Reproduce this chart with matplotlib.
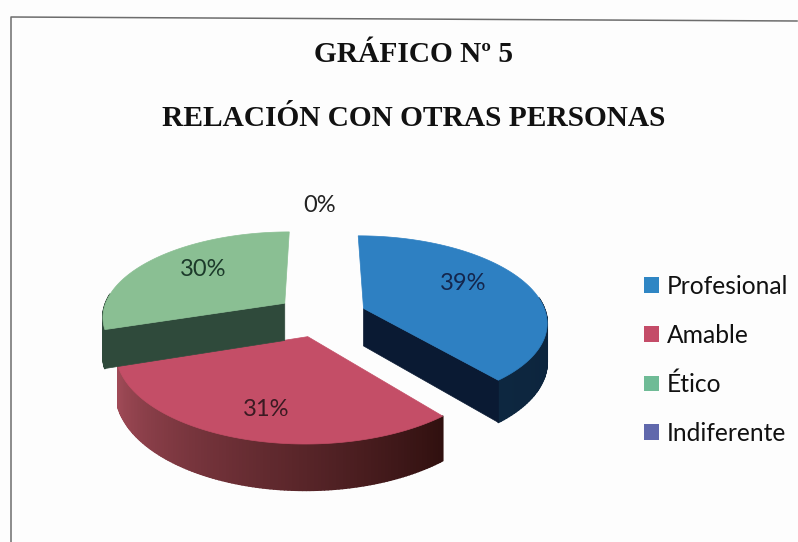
import numpy as np
import matplotlib
matplotlib.use("Agg")
import matplotlib.pyplot as plt
from matplotlib.collections import PolyCollection
from matplotlib.colors import to_rgb
from matplotlib.patches import Patch, Polygon

# -----------------------------------------
# Data
# -----------------------------------------
categories = ["Profesional", "Amable", "Ético", "Indiferente"]
percent = [39, 31, 30, 0]
title_lines = ["GRÁFICO Nº 5", "RELACIÓN CON OTRAS PERSONAS"]

# -----------------------------------------
# Styles
# -----------------------------------------
top_colors = ["#2e80c2", "#c44e67", "#8abf93", "#6068ac"]
legend_colors = ["#2f86c4", "#c44c68", "#6fbb96", "#6068ac"]
rim_colors = [("#0a1c33", "#0d2740"), ("#a04a57", "#30100f"), ("#2f4a3b", "#2f4a3b"), ("#333355", "#333355")]
cut_colors = ["#0a1a33", "#30100f", "#2f4a3b", "#333355"]
label_colors = ["#14264d", "#3a1a22", "#1c3a2a", "#222222"]
label_xy = [(463, 284), (266, 409), (203, 270), (320, 206)]

center_x, center_y = 321, 315.5
radius_x, radius_y = 183, 85
tilt = 0.145
explode = 0.25
depth = 38

plt.rcParams["font.family"] = ["Lato", "DejaVu Sans"]


# -----------------------------------------
# Perspective projection of the pie disc
# -----------------------------------------
def project(x, y, drop=0.0):
    w = 1 + tilt * y
    return np.column_stack([center_x + radius_x * x / w, center_y - radius_y * y / w + drop / w])


fig = plt.figure(figsize=(7.98, 5.42), dpi=100, facecolor="#fdfdfd")
ax = fig.add_axes([0, 0, 1, 1])
ax.set_xlim(0, 798)
ax.set_ylim(542, 0)
ax.axis("off")

# frame of the scanned page
ax.plot([11, 11, 797], [542, 17, 21], color="#6d6d6d", lw=1.1)

# -----------------------------------------
# Slices, clockwise from the top
# -----------------------------------------
sweep = np.array(percent) / sum(percent) * 2 * np.pi
ends = np.pi / 2 - np.cumsum(sweep)
starts = ends + sweep

# red goes first because green sits over it
for i in [1, 2, 0]:
    theta = np.linspace(starts[i], ends[i], 120)
    mid = (starts[i] + ends[i]) / 2
    ox, oy = explode * np.cos(mid), explode * np.sin(mid)
    arc_x, arc_y = ox + np.cos(theta), oy + np.sin(theta)

    # outer rim, only the part facing the viewer
    top = project(arc_x, arc_y)
    bottom = project(arc_x, arc_y, depth)
    quads, quad_colors = [], []
    c0, c1 = np.array(to_rgb(rim_colors[i][0])), np.array(to_rgb(rim_colors[i][1]))
    for j in range(len(theta) - 1):
        if np.sin((theta[j] + theta[j + 1]) / 2) < 0.12:
            quads.append([top[j], top[j + 1], bottom[j + 1], bottom[j]])
            quad_colors.append(c0 + (c1 - c0) * j / (len(theta) - 2))
    if i == 1:
        # red rim runs left to right
        quad_colors = quad_colors[::-1]
    ax.add_collection(PolyCollection(quads, facecolors=quad_colors, edgecolors=quad_colors, lw=1.2))

    # cut face turned to the viewer
    apex = project(np.array([ox]), np.array([oy]))[0]
    apex_low = project(np.array([ox]), np.array([oy]), depth)[0]
    if i == 0:
        ax.add_patch(Polygon([apex, top[-1], bottom[-1], apex_low], color=cut_colors[i], lw=0.5))
    if i == 2:
        ax.add_patch(Polygon([apex, top[0], bottom[0], apex_low], color=cut_colors[i], lw=0.5))

    # top face
    ax.add_patch(Polygon(np.vstack([apex, top]), color=top_colors[i], lw=0.5))

# -----------------------------------------
# Texts
# -----------------------------------------
for value, (x, y), color in zip(percent, label_xy, label_colors):
    ax.text(x, y, f"{value}%", ha="center", va="center", fontsize=17, color=color)

ax.text(414, 54, title_lines[0], ha="center", va="center", fontsize=21.2, fontweight="bold",
        family="Liberation Serif", color="#111111")
ax.text(414, 119, title_lines[1], ha="center", va="center", fontsize=21.2, fontweight="bold",
        family="Liberation Serif", color="#111111")

handles = [Patch(facecolor=c, edgecolor="none", label=name) for c, name in zip(legend_colors, categories)]
ax.legend(handles=handles, loc="center left", bbox_to_anchor=(644 / 798, 1 - 360 / 542), frameon=False,
          fontsize=17.7, labelspacing=1.05, handlelength=0.61, handleheight=0.61, handletextpad=0.33,
          labelcolor="#111111", borderpad=0, borderaxespad=0)

fig.savefig("out.png", dpi=100, facecolor=fig.get_facecolor())
